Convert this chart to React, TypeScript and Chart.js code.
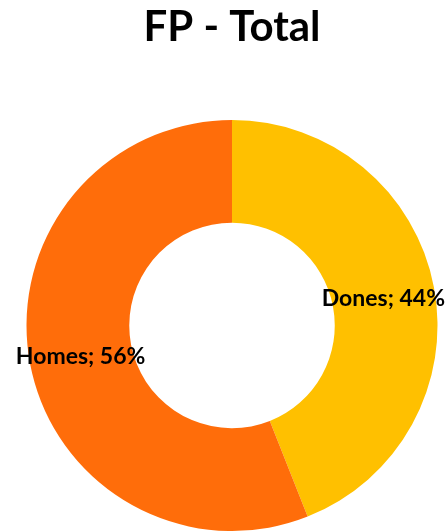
import React, { useEffect, useRef } from "react";
import { Chart, registerables } from "chart.js";

Chart.register(...registerables);

const titleText = "FP - Total";
const categories = ["Dones", "Homes"];
const percentages = [44, 56];
const colors = ["#FFC000", "#FF6D0A"];

const FONT = "Lato, 'Open Sans', sans-serif";

const labelPlugin = {
  id: "sliceLabels",
  afterDatasetsDraw(chart: any) {
    const ctx = chart.ctx;
    const meta = chart.getDatasetMeta(0);
    ctx.save();
    ctx.font = `bold 23px ${FONT}`;
    ctx.fillStyle = "#000";
    ctx.textAlign = "center";
    ctx.textBaseline = "middle";
    meta.data.forEach((arc: any, i: number) => {
      const p = arc.tooltipPosition();
      ctx.fillText(`${categories[i]}; ${percentages[i]}%`, p.x, p.y + 2);
    });
    ctx.restore();
  },
};

const titlePlugin = {
  id: "customTitle",
  afterDraw(chart: any) {
    const ctx = chart.ctx;
    ctx.save();
    ctx.font = `bold 42px ${FONT}`;
    ctx.fillStyle = "#000";
    ctx.textAlign = "center";
    ctx.textBaseline = "middle";
    ctx.fillText(titleText, 232, 27);
    ctx.restore();
  },
};

export default function App() {
  const ref = useRef<HTMLCanvasElement | null>(null);
  useEffect(() => {
    document.body.style.margin = "0";
    const chart = new Chart(ref.current!, {
      type: "doughnut",
      data: {
        labels: categories,
        datasets: [
          {
            data: percentages,
            backgroundColor: colors,
            borderWidth: 0,
          },
        ],
      },
      options: {
        animation: false,
        responsive: false,
        cutout: "50%",
        layout: { padding: { top: 120, left: 16, right: 0, bottom: 0 } },
        plugins: {
          legend: { display: false },
          title: { display: false },
          tooltip: { enabled: false },
        },
      },
      plugins: [labelPlugin, titlePlugin],
    });
    return () => chart.destroy();
  }, []);
  return <canvas ref={ref} width={448} height={531} style={{ display: "block" }} />;
}
